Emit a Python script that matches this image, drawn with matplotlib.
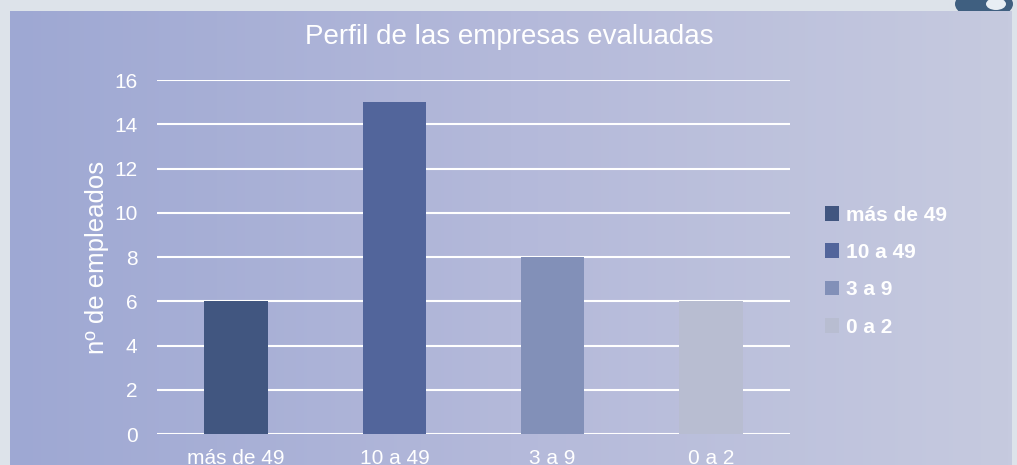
import numpy as np
import matplotlib
matplotlib.use("Agg")
import matplotlib.pyplot as plt
from matplotlib.colors import LinearSegmentedColormap
from matplotlib.patches import Ellipse

categories = ["más de 49", "10 a 49", "3 a 9", "0 a 2"]
values = [6, 15, 8, 6]
bar_colors = ["#415680", "#52659b", "#8290b8", "#b8bdd1"]
yticks = [0, 2, 4, 6, 8, 10, 12, 14, 16]

plt.rcParams['font.family'] = ['Liberation Sans', 'DejaVu Sans']

fig = plt.figure(figsize=(10.17, 4.65), dpi=100)
fig.patch.set_facecolor("#dde3ea")

# small decoration at top right, outside the panel
fig.patches.append(Ellipse((984 / 1017, 1 - 4 / 465), 58 / 1017, 30 / 465,
                           transform=fig.transFigure, facecolor="#3f5f80",
                           edgecolor="none", zorder=0))
fig.patches.append(Ellipse((996 / 1017, 1 - 4 / 465), 20 / 1017, 12 / 465,
                           transform=fig.transFigure, facecolor="#e8eef4",
                           edgecolor="none", zorder=0))

# gradient panel
bg = fig.add_axes([10 / 1017, 0, 1002 / 1017, 454 / 465], zorder=1)
cmap = LinearSegmentedColormap.from_list("bg", ["#9ea8d3", "#b4b9da", "#c6cadf"])
bg.imshow(np.linspace(0, 1, 256).reshape(1, -1), aspect="auto", cmap=cmap,
          extent=[0, 1, 0, 1])
bg.set_axis_off()

ax = fig.add_axes([157 / 1017, 31 / 465, 633 / 1017, 354 / 465], zorder=2)
ax.patch.set_alpha(0)
x = np.arange(len(categories))
bars = ax.bar(x, values, width=0.4, color=bar_colors, zorder=3)
for b, lab in zip(bars, categories):
    b.set_label(lab)

ax.set_xlim(-0.5, len(categories) - 0.5)
ax.set_ylim(0, 16)
ax.set_yticks(yticks)
ax.set_xticks(x)
ax.set_xticklabels(categories)
ax.grid(axis="y", color="white", linewidth=1.5, zorder=1)
for s in ax.spines.values():
    s.set_visible(False)
ax.tick_params(axis="both", length=0, colors="white", labelsize=15)
ax.tick_params(axis="y", pad=14)
ax.tick_params(axis="x", pad=11)
ax.set_ylabel("nº de empleados", color="white", fontsize=18.5, labelpad=4)

fig.text(509 / 1017, 1 - 37 / 465, "Perfil de las empresas evaluadas",
         color="white", fontsize=20, ha="center", va="center", zorder=5)

leg = ax.legend(loc="center left", bbox_to_anchor=(806 / 1017, 1 - 271 / 465),
                bbox_transform=fig.transFigure, frameon=False,
                prop={"size": 15, "weight": "bold"}, handlelength=0.7,
                handleheight=0.7, handletextpad=0.3, labelspacing=0.88)
for t in leg.get_texts():
    t.set_color("white")

fig.savefig("out.png", dpi=100, facecolor=fig.get_facecolor())
